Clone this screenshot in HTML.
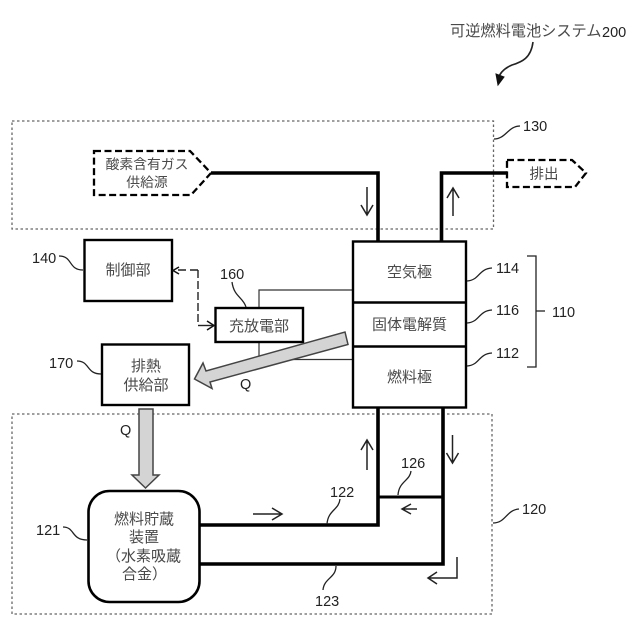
<!DOCTYPE html>
<html><head><meta charset="utf-8"><style>
html,body{margin:0;padding:0;background:#fff}
svg{display:block}
text{font-family:"Liberation Sans","Noto Sans CJK JP",sans-serif;font-size:15px;fill:#4a4a4a}
.n{font-size:14.5px;fill:#222}
.m{text-anchor:middle}
</style></head><body>
<svg width="640" height="640" viewBox="0 0 640 640" xmlns="http://www.w3.org/2000/svg">
<rect width="640" height="640" fill="#fff"/>
<g fill="none" stroke="#666" stroke-width="1.3" stroke-dasharray="2.5 2.5">
<rect x="12" y="121" width="481.5" height="108"/>
<rect x="12" y="414" width="480" height="200"/>
</g>
<!-- thin rect -->
<path d="M353 290H259V359.500H353" fill="none" stroke="#333" stroke-width="1.200"/>
<!-- thick lines -->
<g fill="none" stroke="#000" stroke-width="3.600">
<path d="M211 173H378V241"/>
<path d="M441.500 241V173H507"/>
<path d="M378 407V525H200"/>
<path d="M443 407V564H200"/>
<path d="M378 497H443" stroke-width="3"/>
</g>
<!-- source shapes -->
<path d="M94 151H190L211 173L191 195H94Z" fill="#fff" stroke="#000" stroke-width="2.300" stroke-dasharray="7 3.500"/>
<path d="M507 160H572L586 173L575 187H507Z" fill="#fff" stroke="#000" stroke-width="2.300" stroke-dasharray="7 3.500"/>
<!-- boxes -->
<g fill="#fff" stroke="#000" stroke-width="2.400">
<rect x="84.500" y="240" width="87.500" height="61"/>
<rect x="215.500" y="308" width="87.500" height="34"/>
<rect x="102" y="344.500" width="87" height="60.500"/>
<rect x="353" y="241.500" width="113" height="166"/>
<rect x="88.500" y="491" width="111" height="111" rx="21" ry="21" stroke-width="2.600"/>
</g>
<path d="M353 302.500H466M353 346.500H466" stroke="#000" stroke-width="2.400" fill="none"/>
<!-- grey arrows -->
<path d="M345 332L348 344.500L210 382L212 388.500L194.500 379L203 363L206 371Z" fill="#d4d4d4" stroke="#444" stroke-width="1.500"/>
<path d="M139 409H153V475H159L145.500 488L132 475H139Z" fill="#d4d4d4" stroke="#444" stroke-width="1.500"/>
<!-- dashed signal -->
<path d="M198 270V325" fill="none" stroke="#222" stroke-width="1.400" stroke-dasharray="8 3"/>
<path d="M198 270H178" fill="none" stroke="#222" stroke-width="1.400" stroke-dasharray="8 4"/>
<path d="M198 325.500H213" fill="none" stroke="#222" stroke-width="1.400"/>
<path d="M179 267L173 270.500L179 274M207 321L214 325.500L207 330" fill="none" stroke="#111" stroke-width="1.500"/>
<!-- flow arrows -->
<g fill="none" stroke="#222" stroke-width="1.500">
<path d="M367 187V215M361 205L367 215L373 205"/>
<path d="M453 216V188M447 198L453 188L459 198"/>
<path d="M253 514H282M272 508L282 514L272 520"/>
<path d="M367 470V440M361 450L367 440L373 450"/>
<path d="M452.500 435V463M446.500 453L452.500 463L458.500 453"/>
<path d="M417 509H402M411 504L402 509L411 514"/>
<path d="M457 557V578H428M437 572L428 578L437 584"/>
<!-- system curved -->
<path d="M533 42C531 58 522 62 512 65C505 68 500 72 498 79" stroke-width="1.600"/>
</g>
<path d="M496 74L504 77L498 85Z" fill="#111" stroke="#111"/>
<!-- leaders -->
<g fill="none" stroke="#222" stroke-width="1.300">
<path d="M494 139C506 139 508 126 520 126"/>
<path d="M59 256C73 256 68 270 83 270"/>
<path d="M232 282C234 297 243 297 246 307"/>
<path d="M77 361C90 361 86 374 101 374"/>
<path d="M467 281C480 280 478 269 492 268"/>
<path d="M467 323C480 322 478 311 492 310"/>
<path d="M467 366C480 365 478 354 492 353"/>
<path d="M63 527C75 527 71 540 87 540"/>
<path d="M327 524C328 510 339 510 340 499"/>
<path d="M398 495C399 481 410 481 411 471"/>
<path d="M336 566C336 578 324 578 323 590"/>
<path d="M493 523C506 523 506 510 519 509"/>
<path d="M527 256H536V367H527"/>
<path d="M536 311H545"/>
</g>
<!-- text -->
<text x="450" y="36" style="font-size:15.200px">可逆燃料電池システム</text>
<text x="602" y="37" class="n">200</text>
<text x="523" y="131" class="n">130</text>
<text class="m" x="147" y="169" style="font-size:13.800px">酸素含有ガス</text>
<text class="m" x="147" y="187" style="font-size:13.800px">供給源</text>
<text class="m" x="544" y="179" style="font-size:14.500px">排出</text>
<text class="m" x="128" y="275">制御部</text>
<text class="m" x="259" y="331">充放電部</text>
<text class="m" x="146" y="371">排熱</text>
<text class="m" x="146" y="390">供給部</text>
<text class="m" x="409.500" y="277">空気極</text>
<text class="m" x="409.500" y="329.500">固体電解質</text>
<text class="m" x="409.500" y="382">燃料極</text>
<text x="32" y="263" class="n">140</text>
<text x="220" y="279" class="n">160</text>
<text x="49" y="368" class="n">170</text>
<text x="496" y="273" class="n">114</text>
<text x="496" y="315" class="n">116</text>
<text x="496" y="358" class="n">112</text>
<text x="552" y="317" class="n">110</text>
<text x="240" y="389" class="n">Q</text>
<text x="120" y="435" class="n">Q</text>
<text class="m" x="144" y="524">燃料貯蔵</text>
<text class="m" x="144" y="542">装置</text>
<text x="106" y="561">（水素吸蔵</text>
<text x="122" y="579">合金）</text>
<text x="36" y="535" class="n">121</text>
<text x="330" y="497" class="n">122</text>
<text x="401" y="468" class="n">126</text>
<text x="315" y="606" class="n">123</text>
<text x="522" y="514" class="n">120</text>
</svg>
</body></html>
